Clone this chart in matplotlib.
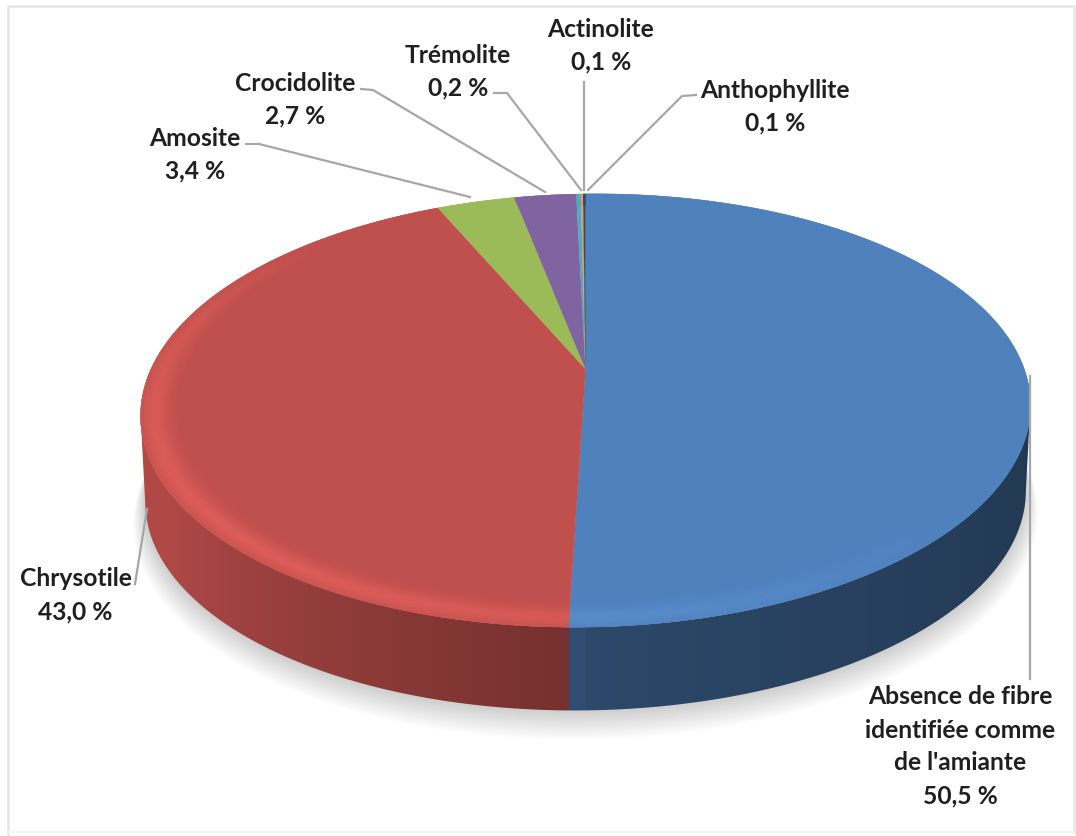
import numpy as np
import matplotlib
matplotlib.use("Agg")
import matplotlib.pyplot as plt
from matplotlib.collections import PolyCollection
from matplotlib.colors import to_rgb

# ---- data ----
categories = ["Absence de fibre\nidentifiée comme\nde l'amiante", "Chrysotile", "Amosite",
              "Crocidolite", "Trémolite", "Actinolite", "Anthophyllite"]
values = [50.5, 43.0, 3.4, 2.7, 0.2, 0.1, 0.1]
value_labels = ["50,5 %", "43,0 %", "3,4 %", "2,7 %", "0,2 %", "0,1 %", "0,1 %"]

# ---- style ----
colors = ["#4F81BD", "#C0504D", "#9BBB59", "#8064A2", "#4BACC6", "#F79646", "#2C4D75"]
label_xy = [(960, 697), (75.5, 579), (195, 138), (295.5, 83), (458, 55), (601, 29), (775, 90)]
# leader lines, from the label towards the pie
leaders = [[(1030, 680), (1030, 377)],
           [(135, 585), (147, 510)],
           [(246, 145), (259, 145), (470, 198)],
           [(361, 90), (373, 91), (545, 193)],
           [(494, 94), (507, 94), (581, 191)],
           [(584, 83), (584, 191)],
           [(696, 96), (682, 97), (588, 191)]]

W, H = 1076, 837
CX, CY = 585.5, 370.0
K, A = 0.1917, 208.6
B = 436.7
DEPTH = 86.5
WALL_R = 0.99

plt.rcParams["font.family"] = ["Lato", "DejaVu Sans"]
fig = plt.figure(figsize=(W / 100, H / 100), dpi=100, facecolor="white")
ax = fig.add_axes([0, 0, 1, 1])
ax.axis("off")


def proj(theta, r=1.0, dy=0.0):
    """theta clockwise from 12 o'clock, returns picture coordinates."""
    X = r * np.sin(theta)
    Y = r * np.cos(theta)
    d = 1 + K * Y
    return CX + B * X / d, CY - A * Y / d - 0.012 * (B * X / d) + dy


def blend(c, other, t):
    return tuple((1 - t) * a + t * b for a, b in zip(to_rgb(c), to_rgb(other)))


fr = np.array(values) / sum(values)
edges = np.concatenate([[0], np.cumsum(fr)]) * 2 * np.pi

# soft shadow beneath the pie
tt = np.linspace(0, 2 * np.pi, 361)
for i in range(16, 0, -1):
    x, y = proj(tt, r=WALL_R + 0.0016 * i, dy=DEPTH + i * 1.3)
    ax.fill(x, y, color="#000000", alpha=0.011, lw=0, zorder=1)

# side wall: one colour per pixel column, clipped to the wall outline
front = np.radians(np.linspace(101, 259, 1200))
fx, _ = proj(front)
columns = np.arange(W) + 0.5
col_theta = np.interp(columns, fx[::-1], front[::-1])
col_img = np.zeros((1, W, 3))
for c, tm in enumerate(col_theta):
    idx = min(np.searchsorted(edges, tm) - 1, len(colors) - 1)
    u = (tm - np.pi) / (np.pi / 2)
    if u >= 0:
        shade = min(0.60 + 0.48 * u, 0.92)
    else:
        shade = 0.57 - 0.15 * min(-u, 1) ** 0.7
    col_img[0, c] = np.array(to_rgb(colors[idx])) * shade
outline = np.radians(np.linspace(101, 259, 400))
xt, yt = proj(outline)
xb, yb = proj(outline, r=WALL_R, dy=DEPTH)
wall_path = np.c_[np.r_[xt, xb[::-1]], np.r_[yt, yb[::-1]]]
wall_patch = plt.Polygon(wall_path, closed=True, transform=ax.transData, fc="none", ec="none")
ax.add_patch(wall_patch)
img = ax.imshow(col_img, extent=(0, W, H, 0), aspect="auto", zorder=2, interpolation="nearest")
img.set_clip_path(wall_patch)

# top face
for i, (a, b) in enumerate(zip(edges[:-1], edges[1:])):
    th = np.linspace(a, b, max(2, int((b - a) / 0.005)))
    x, y = proj(th)
    ax.fill(np.r_[CX, x], np.r_[CY, y], color=colors[i], lw=0.2, zorder=3)

# bevelled rim on the front edge of the top face
polys, cols = [], []
rings = np.linspace(0.92, 1.0, 13)
for i, (a, b) in enumerate(zip(edges[:-1], edges[1:])):
    n = max(2, int((b - a) / 0.012))
    th = np.linspace(a, b, n + 1)
    for t0, t1 in zip(th[:-1], th[1:]):
        tm = (t0 + t1) / 2
        s = np.clip(np.cos(tm - np.radians(225)), 0, 1) ** 0.8
        for r0, r1 in zip(rings[:-1], rings[1:]):
            t = ((r0 + r1) / 2 - rings[0]) / (rings[-1] - rings[0])
            prof = np.exp(-((t - 0.62) / 0.38) ** 2)
            target = "#E25F5C" if i == 1 else "#5C93D2"
            st = blend(colors[i], target, 0.85 * s * prof)
            x0, y0 = proj(t0, r0)
            x1, y1 = proj(t1, r0)
            x2, y2 = proj(t1, r1)
            x3, y3 = proj(t0, r1)
            polys.append([(x0, y0), (x1, y1), (x2, y2), (x3, y3)])
            cols.append(st)
ax.add_collection(PolyCollection(polys, facecolors=cols, edgecolors=cols, linewidths=0.3, zorder=4))

# leader lines and labels
GREY = "#A6A6A6"
for pts in leaders:
    ax.plot(*zip(*pts), color=GREY, lw=1.6, zorder=5, solid_joinstyle="round")

LINE = 33
for name, val, (lx, ly) in zip(categories, value_labels, label_xy):
    rows = name.split("\n") + [val]
    for j, row in enumerate(rows):
        ax.text(lx, ly + j * LINE, row, ha="center", va="center", fontsize=17.7,
                fontweight="bold", color="#1F1F1F", zorder=6)

# frame
ax.plot([1074, 1074, 8, 8], [833, 7, 7, 837], color="#E6E6E6", lw=1.8, zorder=0)
ax.plot([8, 1074], [833, 833], color="#F5F5F5", lw=1.2, zorder=0)

ax.set_xlim(0, W)
ax.set_ylim(H, 0)
fig.savefig("out.png", dpi=100)
